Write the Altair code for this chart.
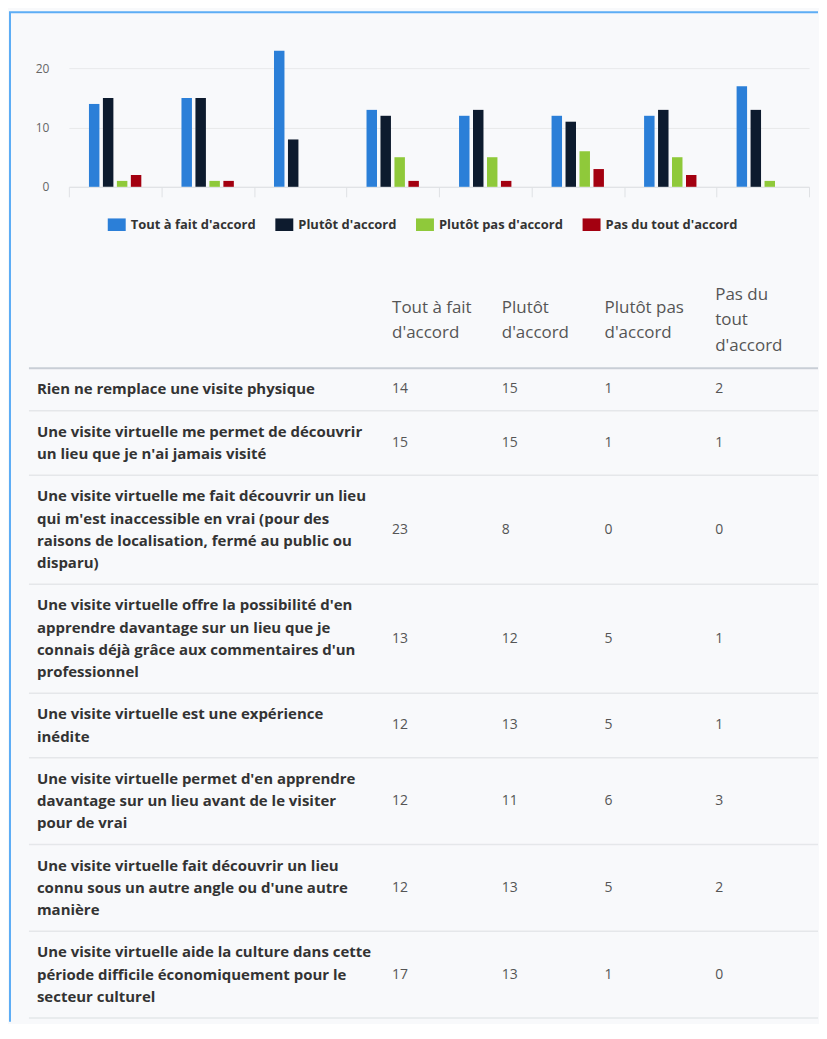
import altair as alt
import pandas as pd

# ---------------- data ----------------
questions = [
    ["Rien ne remplace une visite physique"],
    ["Une visite virtuelle me permet de découvrir",
     "un lieu que je n'ai jamais visité"],
    ["Une visite virtuelle me fait découvrir un lieu",
     "qui m'est inaccessible en vrai (pour des",
     "raisons de localisation, fermé au public ou",
     "disparu)"],
    ["Une visite virtuelle offre la possibilité d'en",
     "apprendre davantage sur un lieu que je",
     "connais déjà grâce aux commentaires d'un",
     "professionnel"],
    ["Une visite virtuelle est une expérience",
     "inédite"],
    ["Une visite virtuelle permet d'en apprendre",
     "davantage sur un lieu avant de le visiter",
     "pour de vrai"],
    ["Une visite virtuelle fait découvrir un lieu",
     "connu sous un autre angle ou d'une autre",
     "manière"],
    ["Une visite virtuelle aide la culture dans cette",
     "période difficile économiquement pour le",
     "secteur culturel"],
]
categories = ["Tout à fait d'accord", "Plutôt d'accord",
              "Plutôt pas d'accord", "Pas du tout d'accord"]
headers = [["Tout à fait", "d'accord"], ["Plutôt", "d'accord"],
           ["Plutôt pas", "d'accord"], ["Pas du", "tout", "d'accord"]]
tout_a_fait = [14, 15, 23, 13, 12, 12, 12, 17]
plutot = [15, 15, 8, 12, 13, 11, 13, 13]
plutot_pas = [1, 1, 0, 5, 5, 6, 5, 1]
pas_du_tout = [2, 1, 0, 1, 1, 3, 2, 0]
series = [tout_a_fait, plutot, plutot_pas, pas_du_tout]

# ---------------- styles ----------------
colors = ["#2b7fd8", "#0d1b2e", "#8fc93a", "#a30010"]
BLUE = "#5dadf5"
BG = "#f8f9fb"
FONT = "Open Sans"

qids = [f"Q{i + 1}" for i in range(len(questions))]
bar_df = pd.DataFrame(
    [{"q": qids[i], "cat": categories[c], "v": series[c][i]}
     for i in range(len(qids)) for c in range(len(categories))]
)

# ---------------- bar chart ----------------
BAR_H = 178
bars = alt.Chart(bar_df).mark_bar().encode(
    x=alt.X("q:N", sort=qids,
            scale=alt.Scale(paddingInner=0, paddingOuter=0),
            axis=alt.Axis(labels=False, title=None, ticks=True, tickBand="extent",
                          tickSize=10, tickColor="#dfe1e4", domainColor="#dfe1e4",
                          grid=False)),
    xOffset=alt.XOffset("cat:N", sort=categories,
                        scale=alt.Scale(range=[18.4, 74.4], paddingInner=0.25,
                                        paddingOuter=0.125)),
    y=alt.Y("v:Q", scale=alt.Scale(domain=[0, 30]),
            axis=alt.Axis(values=[0, 10, 20], title=None, domain=False, ticks=False,
                          labelPadding=20, gridColor="#e8e9eb", labelColor="#666",
                          labelFont=FONT, labelFontSize=12)),
    color=alt.Color("cat:N", sort=categories,
                    scale=alt.Scale(domain=categories, range=colors),
                    legend=alt.Legend(orient="none", legendX=39, legendY=207,
                                      direction="horizontal", columns=4, title=None,
                                      symbolType="M-1,-0.7H1V0.7H-1Z", symbolSize=324,
                                      symbolStrokeWidth=0, labelFont=FONT,
                                      labelFontSize=13, labelFontWeight="bold",
                                      labelColor="#333", labelOffset=5,
                                      columnPadding=19, padding=0)),
)

one = pd.DataFrame({"k": [0]})
top_border = alt.Chart(one).mark_rule(color=BLUE, strokeWidth=2).encode(
    x=alt.value(-60), x2=alt.value(751), y=alt.value(3))
left_border_a = alt.Chart(one).mark_rule(color=BLUE, strokeWidth=2).encode(
    x=alt.value(-59), y=alt.value(3), y2=alt.value(256))

bar_chart = alt.layer(bars, top_border, left_border_a).properties(width=742, height=BAR_H)

# ---------------- table ----------------
GAP = 72                     # space between the bar plot and the table block
LINE_PX = 22.3
TABLE_H = 765
HEAD = 110 / LINE_PX
PAD = 0.9
HEAD_CENTER = 62 / LINE_PX
HEAD_STEP = 25.5 / LINE_PX

tops = []
t = HEAD
for lines in questions:
    tops.append(t)
    t += len(lines) + PAD
end = t

label_rows, value_rows = [], []
for i, lines in enumerate(questions):
    for j, line in enumerate(lines):
        label_rows.append({"col": 0, "y": tops[i] + PAD / 2 + 0.5 + j, "text": line})
    center = tops[i] + (len(lines) + PAD) / 2
    for c in range(4):
        value_rows.append({"col": c + 1, "y": center, "text": str(series[c][i])})

header_rows = []
for c, lines in enumerate(headers):
    n = len(lines)
    for j, line in enumerate(lines):
        header_rows.append({"col": c + 1,
                            "y": HEAD_CENTER + (j - (n - 1) / 2) * HEAD_STEP,
                            "text": line})

xs = alt.X("col:Q", axis=None,
           scale=alt.Scale(domain=[0, 1, 2, 3, 4], range=[-32, 324, 434, 537, 648]))
ys = alt.Y("y:Q", axis=None,
           scale=alt.Scale(domain=[0, TABLE_H / LINE_PX], reverse=True, nice=False, zero=False))

labels_layer = alt.Chart(pd.DataFrame(label_rows)).mark_text(
    align="left", baseline="middle", font=FONT, fontSize=15, fontWeight="bold", color="#333"
).encode(x=xs, y=ys, text="text:N")

values_layer = alt.Chart(pd.DataFrame(value_rows)).mark_text(
    align="left", baseline="middle", font=FONT, fontSize=14, color="#555"
).encode(x=xs, y=ys, text="text:N")

header_layer = alt.Chart(pd.DataFrame(header_rows)).mark_text(
    align="left", baseline="middle", font=FONT, fontSize=17, color="#555"
).encode(x=xs, y=ys, text="text:N")

head_line = alt.Chart(pd.DataFrame({"y": [HEAD]})).mark_rule(
    color="#c9ced6", strokeWidth=2
).encode(x=alt.value(-40), x2=alt.value(751), y=ys)

seps = alt.Chart(pd.DataFrame({"y": tops[1:] + [end]})).mark_rule(
    color="#e5e7ea", strokeWidth=1.5
).encode(x=alt.value(-40), x2=alt.value(751), y=ys)

left_border_b = alt.Chart(one).mark_rule(color=BLUE, strokeWidth=2).encode(
    x=alt.value(-59), y=alt.value(-6), y2=alt.value(TABLE_H))

table_chart = alt.layer(
    head_line, seps, header_layer, labels_layer, values_layer, left_border_b
).properties(width=742, height=TABLE_H)

chart = alt.vconcat(bar_chart, table_chart, spacing=GAP, bounds="flush").resolve_scale(
    x="independent", y="independent", color="independent"
).resolve_legend(color="independent").properties(
    padding=0, background=BG
).configure_view(strokeWidth=0)

chart.save("out.html", embed_options={"renderer": "svg", "actions": False})
